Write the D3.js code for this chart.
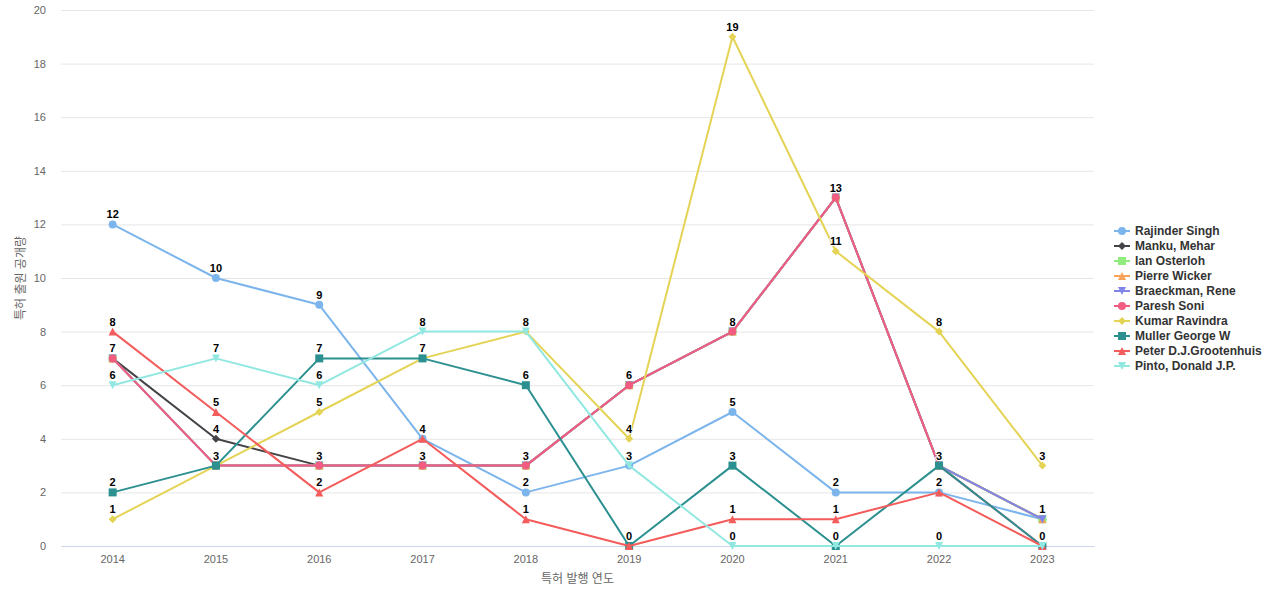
<!DOCTYPE html>
<html><head><meta charset="utf-8">
<script src="https://cdn.jsdelivr.net/npm/d3@7/dist/d3.min.js"></script>
<style>
html,body{margin:0;padding:0;background:#fff;}
svg{font-family:"Liberation Sans",Arial,Helvetica,"Noto Sans CJK KR",sans-serif;}
</style></head>
<body><svg id="c" width="1280" height="600"></svg>
<script>
const years = ["2014","2015","2016","2017","2018","2019","2020","2021","2022","2023"];
const yTicks = [0,2,4,6,8,10,12,14,16,18,20];
const seriesNames = ["Rajinder Singh","Manku, Mehar","Ian Osterloh","Pierre Wicker","Braeckman, Rene","Paresh Soni","Kumar Ravindra","Muller George W","Peter D.J.Grootenhuis","Pinto, Donald J.P."];
const rajinder  = [12,10,9,4,2,3,5,2,2,1];
const manku     = [7,4,3,3,3,6,8,13,3,1];
const ian       = [7,3,3,3,3,6,8,13,3,1];
const pierre    = [7,3,3,3,3,6,8,13,3,1];
const braeckman = [7,3,3,3,3,6,8,13,3,1];
const paresh    = [7,3,3,3,3,6,8,13,3,0];
const kumar     = [1,3,5,7,8,4,19,11,8,3];
const muller    = [2,3,7,7,6,0,3,0,3,0];
const peter     = [8,5,2,4,1,0,1,1,2,0];
const pinto     = [6,7,6,8,8,3,0,0,0,0];
const colors = ["#7cb5ec","#434348","#90ed7d","#f7a35c","#8085e9","#f15c80","#e4d354","#2b908f","#f45b5b","#91e8e1"];
const symbols = ["circle","diamond","square","triangle","triangle-down","circle","diamond","square","triangle","triangle-down"];
const xTitle = "특허 발행 연도";
const yTitle = "특허 출원 공개량";

const values = [rajinder,manku,ian,pierre,braeckman,paresh,kumar,muller,peter,pinto];
const series = seriesNames.map((n,i)=>({name:n,data:values[i],color:colors[i],symbol:symbols[i]}));

const svg = d3.select("#c");
const L=61, R=1094, T=10, B=546;
const x = d3.scaleBand().domain(years).range([L,R]);
const y = d3.scaleLinear().domain([0,20]).range([B,T]);
const cx = d => x(d)+x.bandwidth()/2;

const yAxis = d3.axisLeft(y).tickValues(yTicks).tickSize(-(R-L)).tickPadding(15);
const gy = svg.append("g").attr("transform",`translate(${L},0)`).call(yAxis);
gy.select(".domain").remove();
gy.selectAll(".tick line").attr("stroke","#e6e6e6");
gy.selectAll(".tick text").attr("fill","#666").attr("font-size","11px");

const xAxis = d3.axisBottom(x).tickSize(0).tickPadding(9);
const gx = svg.append("g").attr("transform",`translate(0,${B})`).call(xAxis);
gx.select(".domain").attr("stroke","#ccd6eb");
gx.selectAll(".tick text").attr("fill","#666").attr("font-size","11px");

svg.append("text").attr("x",(L+R)/2).attr("y",583).attr("text-anchor","middle")
  .attr("fill","#666").attr("font-size","12px").text(xTitle);
svg.append("text").attr("transform",`translate(25,${(T+B)/2}) rotate(-90)`).attr("text-anchor","middle")
  .attr("fill","#666").attr("font-size","12px").text(yTitle);

function symPath(s){
  switch(s){
    case "circle": return "M0,-4A4,4 0 1,1 0,4A4,4 0 1,1 0,-4Z";
    case "square": return "M-4,-4H4V4H-4Z";
    case "diamond": return "M0,-4L4,0L0,4L-4,0Z";
    case "triangle": return "M0,-4L4,4H-4Z";
    case "triangle-down": return "M-4,-4H4L0,4Z";
  }
}

const line = d3.line().x((d,i)=>cx(years[i])).y(d=>y(d));
const plot = svg.append("g");
series.forEach(s=>{
  const g = plot.append("g");
  g.append("path").datum(s.data).attr("d",line).attr("fill","none")
    .attr("stroke",s.color).attr("stroke-width",2).attr("stroke-linejoin","round").attr("stroke-linecap","round");
  g.selectAll("path.m").data(s.data).enter().append("path").attr("class","m")
    .attr("transform",(d,i)=>`translate(${cx(years[i])},${y(d)})`)
    .attr("d",symPath(s.symbol)).attr("fill",s.color);
});

const placed = [];
const lab = svg.append("g");
series.forEach(s=>{
  s.data.forEach((v,i)=>{
    const px = cx(years[i]), py = y(v)-6;
    const w = String(v).length*7, h=12;
    const box = {x0:px-w/2,x1:px+w/2,y0:py-h,y1:py};
    if (placed.some(b=>!(box.x1<b.x0||box.x0>b.x1||box.y1<b.y0||box.y0>b.y1))) return;
    placed.push(box);
    lab.append("text").attr("x",px).attr("y",py).attr("text-anchor","middle")
      .attr("font-size","11px").attr("font-weight","bold").attr("fill","#000")
      .attr("stroke","#fff").attr("stroke-width",2).attr("stroke-linejoin","round")
      .attr("paint-order","stroke").text(v);
  });
});

const lg = svg.append("g").attr("transform","translate(1114,231)");
series.forEach((s,i)=>{
  const g = lg.append("g").attr("transform",`translate(0,${i*15})`);
  g.append("line").attr("x1",0).attr("x2",16).attr("y1",0).attr("y2",0).attr("stroke",s.color).attr("stroke-width",2);
  g.append("path").attr("transform","translate(8,0)").attr("d",symPath(s.symbol)).attr("fill",s.color);
  g.append("text").attr("x",21).attr("y",4).attr("font-size","12px").attr("font-weight","bold").attr("fill","#333").text(s.name);
});
</script></body></html>
